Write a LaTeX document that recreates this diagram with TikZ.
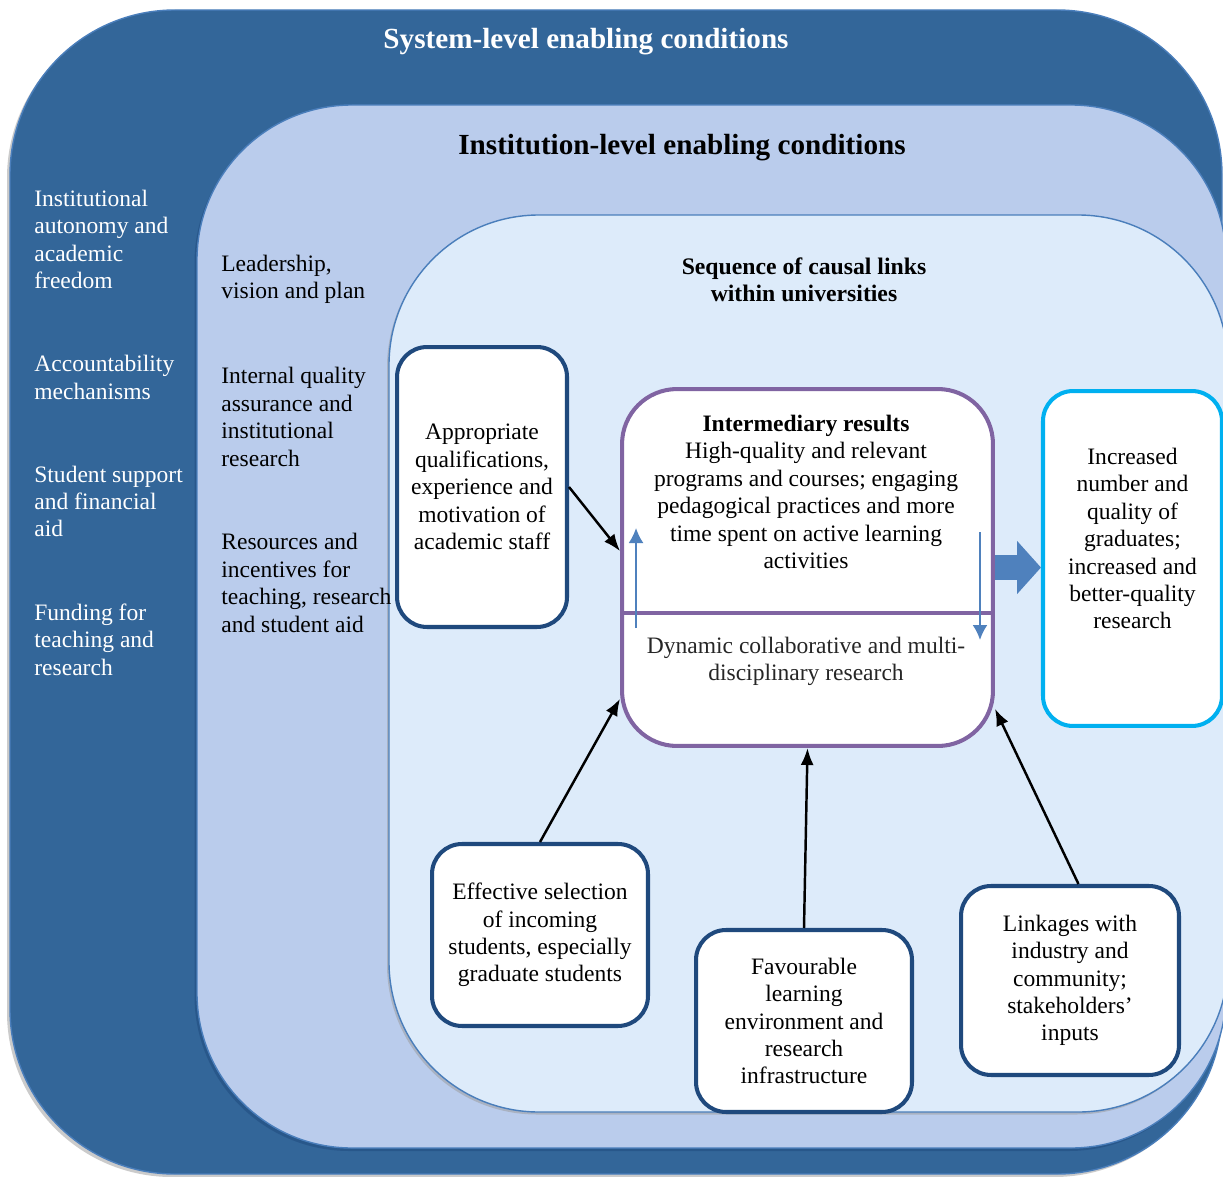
\documentclass[tikz,border=0pt]{standalone}
\usepackage{fontspec}
\setmainfont{Liberation Serif}
\usetikzlibrary{arrows,arrows.meta,shadows}
\definecolor{sysblue}{RGB}{51,102,153}
\definecolor{instblue}{RGB}{186,204,236}
\definecolor{causalblue}{RGB}{221,235,250}
\definecolor{edgeblue}{RGB}{74,126,187}
\definecolor{staffnavy}{RGB}{31,73,125}
\definecolor{resultpurple}{RGB}{128,100,162}
\definecolor{outcomecyan}{RGB}{0,176,240}
\definecolor{feedblue}{RGB}{79,129,189}
\newcommand{\bodyfont}{\fontsize{13.4}{15.6}\selectfont}
\newcommand{\headfont}{\fontsize{16.6}{19}\selectfont\bfseries}
\newcommand{\subheadfont}{\fontsize{13.5}{15.6}\selectfont\bfseries}
\tikzstyle{level} = [draw=edgeblue, line width=0.8pt]
\tikzstyle{systext} = [text=white, align=left, anchor=west, inner sep=0pt,
  font=\bodyfont]
\tikzstyle{insttext} = [systext, text=black]
\tikzstyle{heading} = [inner sep=0pt, font=\headfont]
\tikzstyle{cause} = [draw=staffnavy, line width=2.3pt, fill=white,
  rounded corners=0.6cm, align=center, inner sep=0pt, font=\bodyfont]
\tikzstyle{result} = [cause, draw=resultpurple, rounded corners=1.1cm]
\tikzstyle{outcome} = [cause, draw=outcomecyan]
\tikzstyle{resulttext} = [align=center, inner sep=0pt, font=\bodyfont]
\tikzstyle{line} = [draw, line width=1.4pt, -{Latex[length=0.34cm,width=0.26cm]}]
\tikzstyle{feedback} = [draw, color=feedblue, line width=1.2pt,
  -{Latex[length=0.3cm,width=0.3cm]}]
\tikzstyle{bigarrow} = [draw, color=feedblue, line width=0.5cm,
  -{Triangle[length=0.48cm,width=1.04cm]}]

\begin{document}
\begin{tikzpicture}[x=0.02cm,y=-0.02cm]

  \path [use as bounding box, clip] (0,0) rectangle (1223,1176);
  \fill [white] (0,0) rectangle (1223,1176);

  % Draw the three levels
  \path [level, fill=sysblue, rounded corners=3.3cm,
    drop shadow={shadow xshift=-0.06cm, shadow yshift=-0.06cm, fill=black!40}]
    (10,10) rectangle (1222,1174);
  \path [level, fill=instblue, rounded corners=3.1cm,
    drop shadow={shadow xshift=-0.05cm, shadow yshift=-0.06cm, fill=staffnavy}]
    (197,105) rectangle (1226,1148);
  \path [level, fill=causalblue, rounded corners=3.0cm,
    drop shadow={shadow xshift=-0.04cm, shadow yshift=-0.05cm, fill=black!40}]
    (389,215) rectangle (1228,1112);

  \path (586,42) node (systitle) [heading, text=white] {System-level enabling conditions};
  \path (682,148) node (insttitle) [heading] {Institution-level enabling conditions};
  \path (804,280) node (causaltitle) [heading, font=\subheadfont, align=center]
    {Sequence of causal links\\within universities};

  % System-level conditions
  \path (34,239.5) node (sys1) [systext] {Institutional\\autonomy and\\academic\\freedom};
  \path (sys1.west)+(0,138) node (sys2) [systext] {Accountability\\mechanisms};
  \path (sys2.west)+(0,124) node (sys3) [systext] {Student support\\and financial\\aid};
  \path (sys3.west)+(0,138) node (sys4) [systext] {Funding for\\teaching and\\research};

  % Institution-level conditions
  \path (221,279.5) node (inst1) [insttext] {Leadership,\\vision and plan};
  \path (inst1.west)+(0,137.5) node (inst2) [insttext]
    {Internal quality\\assurance and\\institutional\\research};
  \path (inst2.west)+(0,166) node (inst3) [insttext]
    {Resources and\\incentives for\\teaching, research\\and student aid};

  % Draw diagram elements
  \path (807.5,567.5) node (ir) [result, minimum width=7.42cm, minimum height=7.14cm] {};
  \path (ir.north)+(-1.5,105) node (irtop) [resulttext]
    {\textbf{Intermediary results}\\High-quality and relevant\\programs and courses; engaging\\pedagogical practices and more\\time spent on active learning\\activities};
  \path (ir.south)+(-1.5,-86.5) node (irbot) [resulttext, text=black!85]
    {Dynamic collaborative and multi-\\disciplinary research};
  \path [draw=resultpurple, line width=2.8pt] (ir.west) +(0,45.5) -- +(374,45.5);

  \path (ir.west)+(-138,-80.5) node (appr) [cause, minimum width=3.4cm, minimum height=5.6cm]
    {Appropriate\\qualifications,\\experience and\\motivation of\\academic staff};
  \path (ir.east)+(137.5,-9) node (out) [outcome, minimum width=3.58cm, minimum height=6.7cm]
    {Increased\\number and\\quality of\\graduates;\\increased and\\better-quality\\research\\[0.25cm]\mbox{}};
  \path (ir.south)+(-267.5,187) node (eff) [cause, minimum width=4.32cm, minimum height=3.64cm]
    {Effective selection\\of incoming\\students, especially\\graduate students};
  \path (ir.south)+(-3.5,273) node (fav) [cause, minimum width=4.32cm, minimum height=3.64cm]
    {Favourable\\learning\\environment and\\research\\infrastructure};
  \path (ir.south)+(262.5,232.5) node (link) [cause, minimum width=4.36cm, minimum height=3.78cm]
    {Linkages with\\industry and\\community;\\stakeholders'\\inputs};

  % Draw arrows between elements
  \path [line] (appr.east) -- (ir.175);
  \path [line] (eff.north) -- (ir.215);
  \path [line] (fav.north) -- (ir.south);
  \path [line] (link.85) -- (ir.-37);

  \path (ir.west) +(16,60.5) coordinate (uplow) +(16,-39.5) coordinate (uphigh);
  \path (ir.east) +(-15,-35.5) coordinate (downhigh) +(-15,72.5) coordinate (downlow);
  \path [feedback] (uplow) -- (uphigh);
  \path [feedback] (downhigh) -- (downlow);

  \path [bigarrow] (ir.east) -- (ir.east -| out.west);
\end{tikzpicture}
\end{document}
